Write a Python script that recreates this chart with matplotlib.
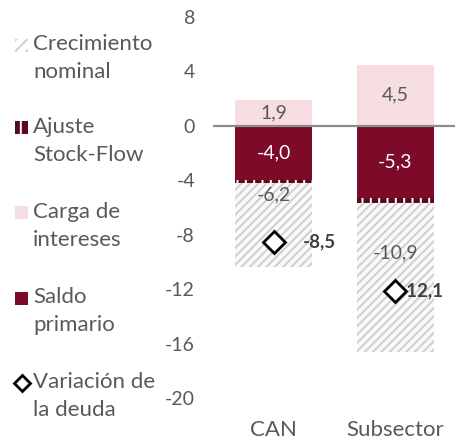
import matplotlib
matplotlib.use("Agg")
import matplotlib.pyplot as plt
from matplotlib.patches import Rectangle
from matplotlib.lines import Line2D

plt.rcParams['font.family'] = ['Lato', 'DejaVu Sans']
plt.rcParams['hatch.linewidth'] = 1.4

# ======================== data
categories = ['CAN', 'Subsector']
carga = [1.9, 4.5]
saldo = [-4.0, -5.3]
ajuste = [-0.2, -0.4]
crecimiento = [-6.2, -10.9]
variacion = [-8.5, -12.1]
crec_label_y = [-5.1, -9.3]
yticks = [8, 4, 0, -4, -8, -12, -16, -20]

legend_labels = ['Crecimiento\nnominal', 'Ajuste\nStock-Flow', 'Carga de\nintereses',
                 'Saldo\nprimario', 'Variación de\nla deuda']

c_carga = '#f5dde1'
c_saldo = '#7d0a28'
c_ajuste = '#5a0a1e'
c_hatch = '#cfcfcf'
c_text = '#595959'

fmt = lambda v: ('%.1f' % v).replace('.', ',')

# ======================== plot
fig = plt.figure(figsize=(4.56, 4.43), dpi=100)
ax = fig.add_axes([0.467, 0.1016, 0.533, 0.86])

x = list(range(len(categories)))
w = 0.63
ax.bar(x, carga, w, color=c_carga, zorder=2)
ax.bar(x, saldo, w, color=c_saldo, zorder=2)
aj_bottom = saldo
ax.bar(x, ajuste, w, bottom=aj_bottom, facecolor=c_ajuste, edgecolor='white',
       hatch='||', linewidth=0, zorder=2)
cr_bottom = [s + a for s, a in zip(saldo, ajuste)]
ax.bar(x, crecimiento, w, bottom=cr_bottom, facecolor='#fafafa', edgecolor=c_hatch,
       hatch='////', linewidth=0, zorder=2)
ax.plot(x, variacion, 'D', ms=11, mfc='white', mec='black', mew=2, zorder=4)

ax.axhline(0, color='#8c8c8c', lw=1.6, zorder=3)

for i in x:
    ax.text(i, carga[i] / 2, fmt(carga[i]), ha='center', va='center', fontsize=14, color=c_text)
    ax.text(i, saldo[i] / 2, fmt(saldo[i]), ha='center', va='center', fontsize=14, color='white')
    ax.text(i, crec_label_y[i], fmt(crecimiento[i]), ha='center', va='center', fontsize=14, color=c_text)
offsets = [21, 3]
for i in x:
    ax.annotate(fmt(variacion[i]), (i, variacion[i]), xytext=(offsets[i], 0),
                textcoords='offset points', ha='left', va='center', fontsize=13.5,
                fontweight='bold', color='#404040', zorder=3)

ax.set_xlim(-0.5, 1.5)
ax.set_ylim(-20, 8)
ax.set_yticks(yticks)
ax.set_yticklabels([str(t) for t in yticks])
ax.set_xticks(x)
ax.set_xticklabels(categories)
ax.tick_params(axis='y', length=0, pad=13, labelsize=14, labelcolor=c_text)
ax.tick_params(axis='x', length=0, pad=16, labelsize=16, labelcolor=c_text)
for s in ax.spines.values():
    s.set_visible(False)

# ======================== legend
H = 443.0
W = 456.0
first_line = [45, 128, 213, 298, 383]
for k, (lab, yp) in enumerate(zip(legend_labels, first_line)):
    yf = 1 - yp / H
    fig.text(33 / W, 1 - (yp - 11) / H, lab, ha='left', va='top', fontsize=16, color=c_text,
             linespacing=1.5, transform=fig.transFigure)
    hx, hs = 15 / W, 13 / W
    hh = 13 / H
    if k == 0:
        fig.add_artist(Rectangle((hx, yf - hh / 2), hs, hh, facecolor='white', edgecolor=c_hatch,
                                 hatch='///', linewidth=0, transform=fig.transFigure))
    elif k == 1:
        fig.add_artist(Rectangle((hx, yf - hh / 2), hs, hh, facecolor=c_ajuste, edgecolor='white',
                                 hatch='||', linewidth=0, transform=fig.transFigure))
    elif k == 2:
        fig.add_artist(Rectangle((hx, yf - hh / 2), hs, hh, facecolor=c_carga, linewidth=0,
                                 transform=fig.transFigure))
    elif k == 3:
        fig.add_artist(Rectangle((hx, yf - hh / 2), hs, hh, facecolor=c_saldo, linewidth=0,
                                 transform=fig.transFigure))
    else:
        fig.add_artist(Line2D([22 / W], [yf], marker='D', ms=8, mfc='white', mec='black', mew=2,
                              transform=fig.transFigure))

fig.savefig('out.png', dpi=100)
